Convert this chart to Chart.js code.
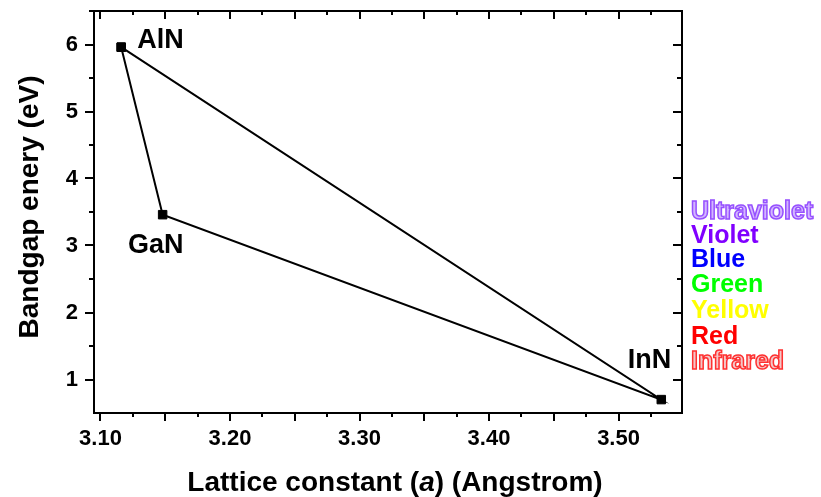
<!DOCTYPE html>
<html>
<head>
<meta charset="utf-8">
<script src="https://cdn.jsdelivr.net/npm/chart.js@4/dist/chart.umd.min.js"></script>
<style>
  html,body{margin:0;padding:0;background:#fff;}
  #wrap{width:821px;height:497px;position:relative;}
</style>
</head>
<body>
<div id="wrap"><canvas id="gapChart"></canvas></div>
<script>
// nitride end points
const compounds = ['AlN', 'GaN', 'InN'];
const latticeA = [3.116, 3.148, 3.533];
const bandgapEV = [5.96, 3.46, 0.70];
const outline = [0, 1, 2, 0]; // closed triangle

const xTicks = [3.10, 3.20, 3.30, 3.40, 3.50];
const yTicks = [1, 2, 3, 4, 5, 6];

// colour labels on the right, placed at their photon energy
const bandNames = ['Ultraviolet', 'Violet', 'Blue', 'Green', 'Yellow', 'Red', 'Infrared'];
const bandEV = [3.50, 3.14, 2.78, 2.41, 2.02, 1.64, 1.26];
const bandFill = ['#d3b6ff', '#8000ff', '#0000ff', '#00ff00', '#ffff00', '#ff0000', '#f4c6c6'];
const bandStroke = [ '#9650ff', null, null, null, null, null, '#ff3030'];

const FONT = 'Arial, "Liberation Sans", Helvetica, sans-serif';

const framePlugin = {
  id: 'frame',
  afterDraw(chart){
    const {ctx, chartArea:a, scales:{x, y}} = chart;
    ctx.save();
    ctx.strokeStyle = '#000';
    ctx.lineWidth = 2;
    ctx.strokeRect(a.left, a.top, a.right - a.left, a.bottom - a.top);

    // x ticks: major every 0.05, minor every 0.025
    for(let i = 0; ; i++){
      const v = 3.10 + i*0.025;
      if(v > x.max + 1e-9) break;
      const px = Math.round(x.getPixelForValue(v));
      const len = (i % 2 === 0) ? 8 : 4;
      ctx.beginPath();
      ctx.moveTo(px, a.bottom); ctx.lineTo(px, a.bottom + len);
      ctx.moveTo(px, a.top); ctx.lineTo(px, a.top + len);
      ctx.stroke();
    }
    // y ticks: major every 1, minor every 0.5
    for(let v = 1; v <= y.max + 1e-9; v += 0.5){
      const py = Math.round(y.getPixelForValue(v));
      const len = (Math.abs(v - Math.round(v)) < 1e-6) ? 9 : 5;
      ctx.beginPath();
      ctx.moveTo(a.left, py); ctx.lineTo(a.left - len, py);
      ctx.moveTo(a.right, py); ctx.lineTo(a.right - len, py);
      ctx.stroke();
    }

    // compound labels
    ctx.fillStyle = '#000';
    ctx.font = 'bold 27px ' + FONT;
    ctx.textBaseline = 'alphabetic';
    const px = i => x.getPixelForValue(latticeA[i]);
    const py = i => y.getPixelForValue(bandgapEV[i]);
    ctx.textAlign = 'left';
    ctx.fillText(compounds[0], px(0) + 16, py(0) + 1);
    ctx.textAlign = 'center';
    ctx.fillText(compounds[1], px(1) - 7, py(1) + 38);
    ctx.textAlign = 'right';
    ctx.fillText(compounds[2], px(2) + 10, py(2) - 32);

    // spectrum labels
    ctx.font = 'bold 25px ' + FONT;
    ctx.textAlign = 'left';
    ctx.textBaseline = 'middle';
    bandNames.forEach((n, i)=>{
      const ty = y.getPixelForValue(bandEV[i]);
      const tx = a.right + 9;
      ctx.fillStyle = bandFill[i];
      ctx.fillText(n, tx, ty);
      if(bandStroke[i]){
        ctx.strokeStyle = bandStroke[i];
        ctx.lineWidth = 1.5;
        ctx.strokeText(n, tx, ty);
      }
    });

    // axis titles
    ctx.fillStyle = '#000';
    ctx.textBaseline = 'alphabetic';
    const parts = [['Lattice constant (', 'bold '], ['a', 'italic bold '], [') (Angstrom)', 'bold ']];
    let total = 0;
    parts.forEach(p=>{ ctx.font = p[1] + '28px ' + FONT; total += ctx.measureText(p[0]).width; });
    let cx = 395 - total/2;
    ctx.textAlign = 'left';
    parts.forEach(p=>{
      ctx.font = p[1] + '28px ' + FONT;
      ctx.fillText(p[0], cx, 491);
      cx += ctx.measureText(p[0]).width;
    });

    ctx.translate(38, 207);
    ctx.rotate(-Math.PI/2);
    ctx.textAlign = 'center';
    ctx.font = 'bold 28px ' + FONT;
    ctx.fillText('Bandgap enery (eV)', 0, 0);
    ctx.restore();
  }
};

new Chart(document.getElementById('gapChart'), {
  type: 'scatter',
  data: {
    datasets: [{
      data: outline.map(i => ({x: latticeA[i], y: bandgapEV[i]})),
      showLine: true,
      borderColor: '#000',
      backgroundColor: '#000',
      borderWidth: 2,
      pointStyle: 'rect',
      pointRadius: 6,
      pointBorderWidth: 1,
      tension: 0
    }]
  },
  options: {
    responsive: true,
    maintainAspectRatio: false,
    animation: false,
    layout: { padding: { left: 0, right: 139, top: 11, bottom: 0 } },
    plugins: { legend: { display: false }, tooltip: { enabled: false } },
    scales: {
      x: {
        type: 'linear', min: 3.095, max: 3.549,
        grid: { display: false, drawTicks: false },
        border: { display: false },
        afterBuildTicks: s => { s.ticks = xTicks.map(v => ({value: v})); },
        afterFit: s => { s.height = 84; s.paddingLeft = 0; s.paddingRight = 0; },
        ticks: {
          padding: 13, color: '#000',
          font: { family: FONT, size: 22, weight: 'bold' },
          callback: v => Number(v).toFixed(2)
        }
      },
      y: {
        type: 'linear', min: 0.5, max: 6.5,
        grid: { display: false, drawTicks: false },
        border: { display: false },
        afterBuildTicks: s => { s.ticks = yTicks.map(v => ({value: v})); },
        afterFit: s => { s.width = 94; s.paddingTop = 0; s.paddingBottom = 0; },
        ticks: {
          padding: 16, color: '#000',
          font: { family: FONT, size: 22, weight: 'bold' }
        }
      }
    }
  },
  plugins: [framePlugin]
});
</script>
</body>
</html>
